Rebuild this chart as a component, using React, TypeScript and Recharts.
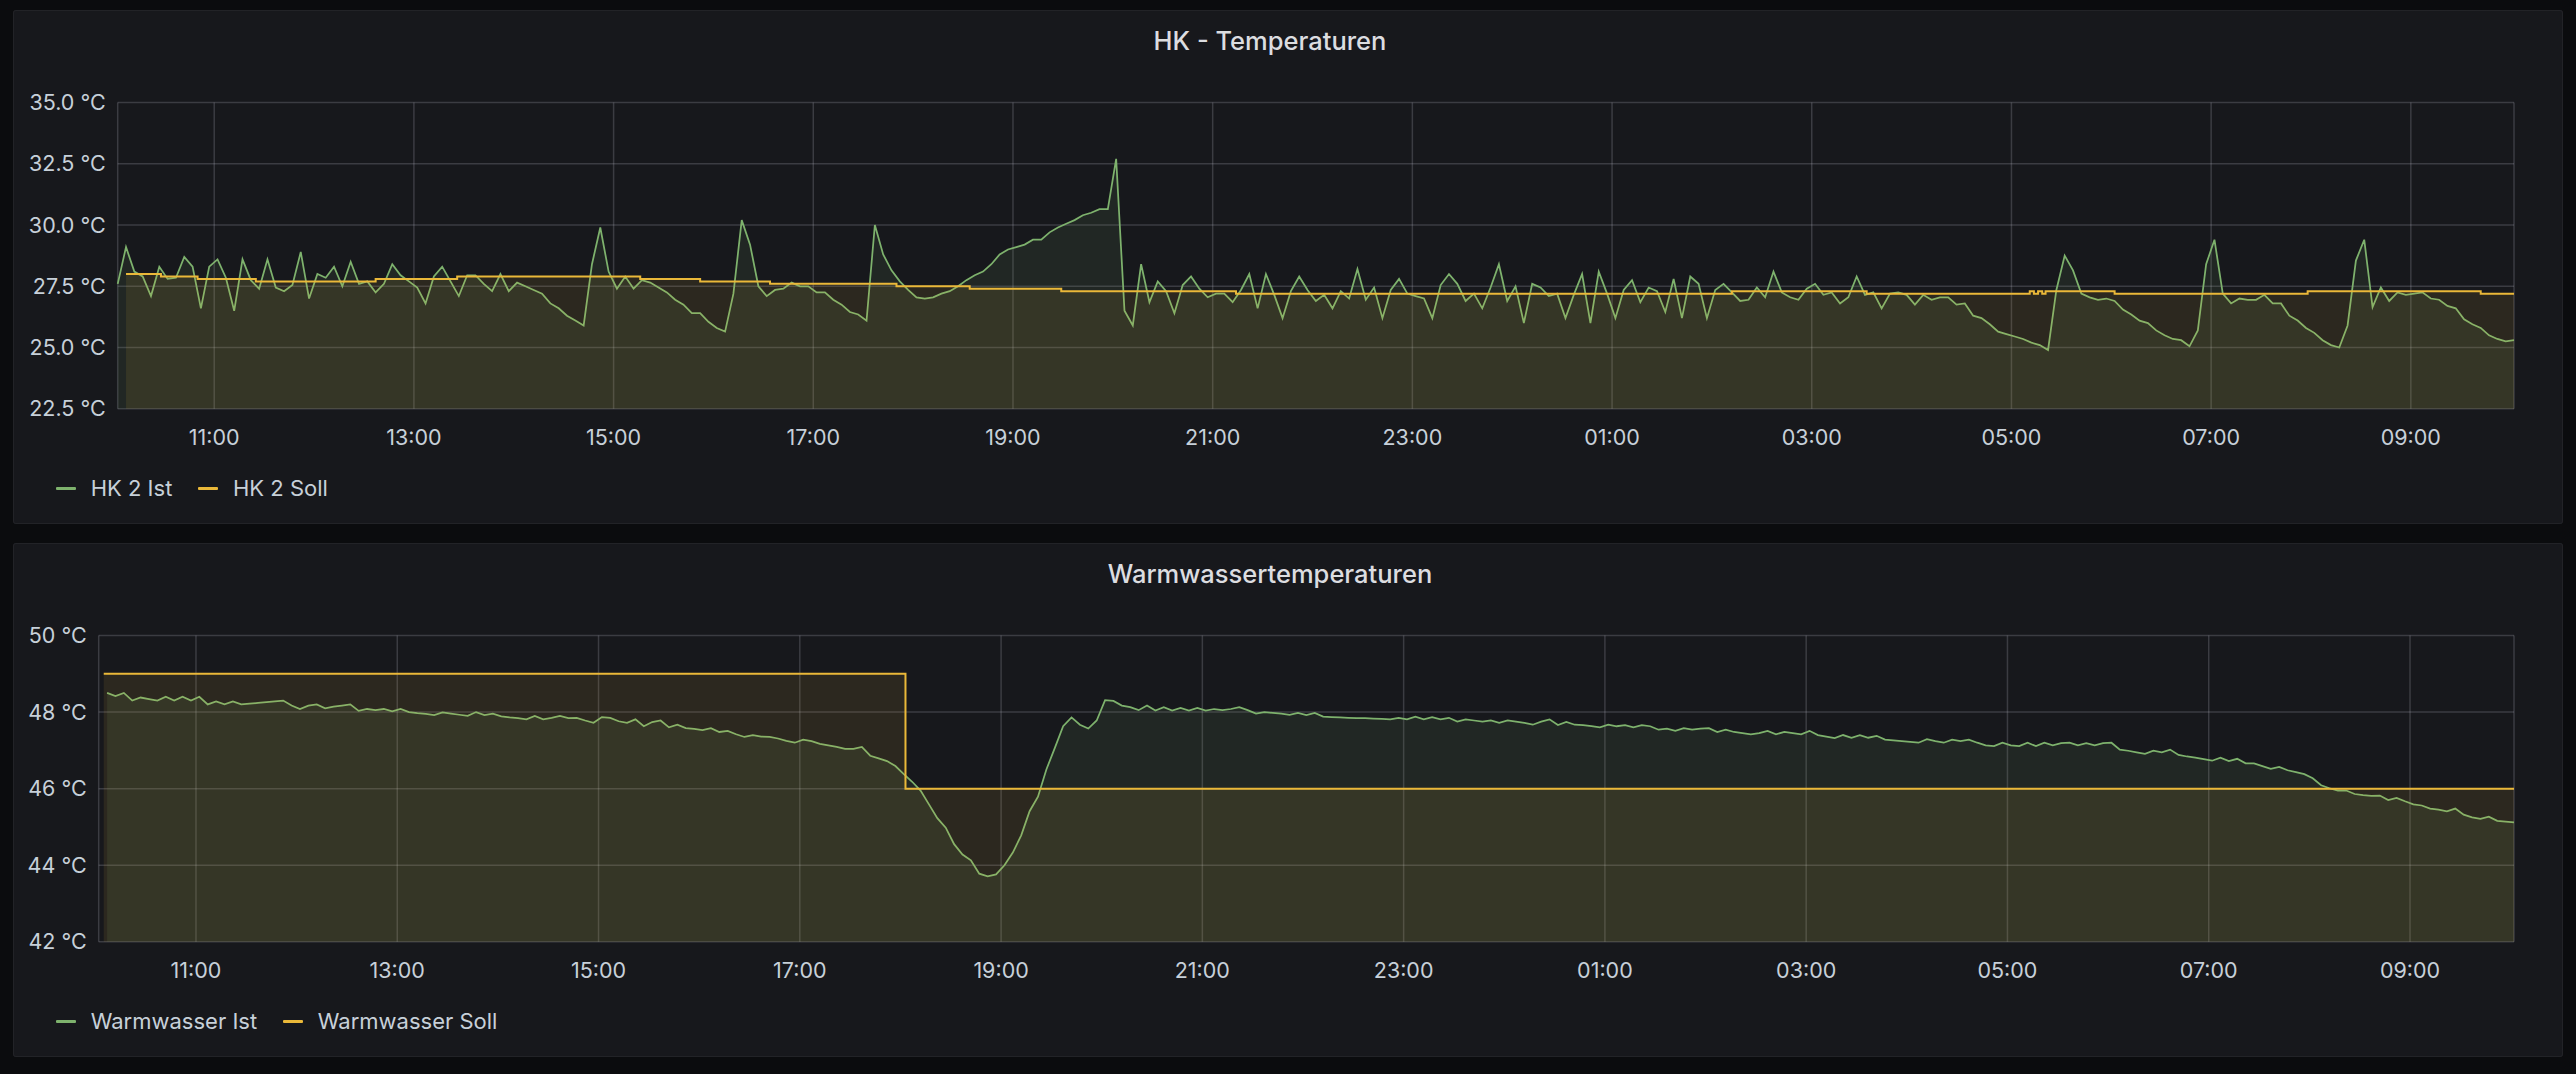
import React from "react";
import { ComposedChart, Area, XAxis, YAxis, CartesianGrid } from "recharts";

// time axis: minutes after 10:00 of the first day
const timeTicks = [60, 180, 300, 420, 540, 660, 780, 900, 1020, 1140, 1260, 1380];
const timeLabels = ["11:00", "13:00", "15:00", "17:00", "19:00", "21:00", "23:00", "01:00", "03:00", "05:00", "07:00", "09:00"];
const timeDomain = [2, 1442];
const sampleStep = 5;

const hkTicks = [22.5, 25, 27.5, 30, 32.5, 35];
const hkTickLabels = ["22.5 °C", "25.0 °C", "27.5 °C", "30.0 °C", "32.5 °C", "35.0 °C"];
const wwTicks = [42, 44, 46, 48, 50];
const wwTickLabels = ["42 °C", "44 °C", "46 °C", "48 °C", "50 °C"];

// HK 2 Ist, one sample every 5 min from 10:02
const hkIstStart = 2;
const hkIst = [
  27.6, 29.1, 28.1, 27.9, 27.1, 28.3, 27.8, 27.85, 28.7, 28.3, 26.6, 28.3,
  28.6, 27.85, 26.5, 28.6, 27.75, 27.4, 28.6, 27.45, 27.3, 27.55, 28.9, 27.0,
  28.0, 27.85, 28.3, 27.5, 28.5, 27.6, 27.7, 27.25, 27.6, 28.4, 27.95, 27.7,
  27.45, 26.8, 27.9, 28.3, 27.7, 27.1, 27.95, 27.95, 27.6, 27.3, 28.0, 27.3,
  27.65, 27.5, 27.35, 27.2, 26.8, 26.6, 26.3, 26.1, 25.9, 28.4, 29.9, 28.1,
  27.4, 27.9, 27.4, 27.75, 27.65, 27.45, 27.25, 26.95, 26.75, 26.4, 26.4, 26.05,
  25.8, 25.65, 27.2, 30.2, 29.2, 27.5, 27.1, 27.35, 27.4, 27.65, 27.5, 27.5,
  27.25, 27.25, 26.95, 26.75, 26.45, 26.35, 26.1, 30.0, 28.8, 28.15, 27.7, 27.35,
  27.05, 27.0, 27.05, 27.2, 27.3, 27.5, 27.75, 27.95, 28.1, 28.4, 28.8, 29.0,
  29.1, 29.2, 29.4, 29.4, 29.7, 29.9, 30.05, 30.2, 30.4, 30.5, 30.65, 30.65,
  32.7, 26.5, 25.9, 28.4, 26.85, 27.7, 27.3, 26.4, 27.55, 27.9, 27.4, 27.05,
  27.2, 27.2, 26.85, 27.35, 28.0, 26.6, 28.0, 27.15, 26.2, 27.3, 27.9, 27.35,
  26.9, 27.15, 26.6, 27.3, 27.0, 28.2, 26.95, 27.45, 26.2, 27.35, 27.8, 27.2,
  27.1, 27.0, 26.2, 27.55, 28.0, 27.6, 26.9, 27.2, 26.6, 27.45, 28.4, 26.9,
  27.5, 26.0, 27.6, 27.45, 27.1, 27.2, 26.2, 27.15, 28.0, 26.0, 28.1, 27.2,
  26.2, 27.35, 27.75, 26.85, 27.45, 27.3, 26.45, 27.8, 26.2, 27.9, 27.6, 26.2,
  27.35, 27.6, 27.25, 26.9, 26.95, 27.45, 27.05, 28.1, 27.25, 27.05, 26.95, 27.4,
  27.6, 27.15, 27.25, 26.8, 27.05, 27.9, 27.15, 27.25, 26.6, 27.2, 27.25, 27.15,
  26.75, 27.15, 26.95, 27.05, 27.05, 26.75, 26.8, 26.3, 26.2, 25.95, 25.65, 25.55,
  25.45, 25.35, 25.2, 25.1, 24.9, 27.35, 28.75, 28.15, 27.2, 27.05, 26.95, 27.0,
  26.9, 26.55, 26.35, 26.1, 26.0, 25.7, 25.5, 25.35, 25.3, 25.05, 25.7, 28.4,
  29.4, 27.2, 26.8, 27.0, 26.95, 26.95, 27.15, 26.8, 26.8, 26.3, 26.1, 25.8,
  25.6, 25.3, 25.1, 25.0, 25.9, 28.55, 29.4, 26.65, 27.45, 26.9, 27.25, 27.15,
  27.2, 27.25, 27.0, 26.95, 26.7, 26.6, 26.15, 25.95, 25.8, 25.5, 25.35, 25.25,
  25.3,
];

// HK 2 Soll, change points (minute, value)
const hkSollTimes = [7, 28, 50, 85, 157, 206, 316, 352, 394, 470, 514, 569, 674, 972, 1053, 1151, 1153.5, 1156, 1158.5, 1160.5, 1202, 1318, 1422, 1442];
const hkSoll = [28.0, 27.9, 27.8, 27.7, 27.8, 27.9, 27.8, 27.7, 27.6, 27.5, 27.4, 27.3, 27.2, 27.3, 27.2, 27.3, 27.2, 27.3, 27.2, 27.3, 27.2, 27.3, 27.2, 27.2];

// Warmwasser Ist, one sample every 5 min from 10:07
const wwIstStart = 7;
const wwIst = [
  48.5, 48.42, 48.5, 48.3, 48.38, 48.34, 48.3, 48.4, 48.3, 48.4, 48.3, 48.4,
  48.2, 48.28, 48.2, 48.28, 48.2, 48.22, 48.24, 48.26, 48.28, 48.3, 48.17, 48.08,
  48.17, 48.2, 48.1, 48.14, 48.17, 48.2, 48.03, 48.08, 48.05, 48.08, 48.02, 48.08,
  48.0, 47.97, 47.95, 47.92, 47.99, 47.96, 47.93, 47.9, 48.0, 47.92, 47.96, 47.89,
  47.86, 47.84, 47.81, 47.9, 47.81, 47.85, 47.9, 47.84, 47.85, 47.78, 47.72, 47.87,
  47.85, 47.76, 47.72, 47.81, 47.63, 47.74, 47.78, 47.6, 47.67, 47.58, 47.56, 47.53,
  47.58, 47.48, 47.51, 47.42, 47.35, 47.4, 47.36, 47.35, 47.31, 47.25, 47.2, 47.28,
  47.24, 47.17, 47.13, 47.09, 47.04, 47.04, 47.09, 46.86, 46.79, 46.72, 46.59, 46.38,
  46.18, 45.95, 45.59, 45.23, 44.98, 44.55, 44.28, 44.13, 43.78, 43.71, 43.76, 44.0,
  44.33, 44.78, 45.41, 45.79, 46.5, 47.06, 47.63, 47.86, 47.67, 47.57, 47.78, 48.31,
  48.29, 48.17, 48.13, 48.05, 48.17, 48.04, 48.13, 48.04, 48.11, 48.04, 48.11, 48.04,
  48.08, 48.05, 48.08, 48.13, 48.05, 47.96, 48.0, 47.98, 47.96, 47.93, 47.98, 47.92,
  47.98, 47.88, 47.87, 47.86, 47.85, 47.84, 47.84, 47.83, 47.82, 47.81, 47.85, 47.81,
  47.88, 47.81, 47.87, 47.81, 47.85, 47.75, 47.81, 47.78, 47.75, 47.78, 47.72, 47.78,
  47.75, 47.72, 47.67, 47.75, 47.81, 47.66, 47.74, 47.67, 47.66, 47.63, 47.6, 47.67,
  47.63, 47.66, 47.6, 47.66, 47.63, 47.54, 47.57, 47.51, 47.58, 47.54, 47.57, 47.58,
  47.48, 47.54, 47.48, 47.45, 47.42, 47.45, 47.51, 47.42, 47.48, 47.45, 47.42, 47.51,
  47.4, 47.36, 47.32, 47.4, 47.33, 47.4, 47.33, 47.38, 47.28, 47.26, 47.24, 47.22,
  47.2, 47.29, 47.24, 47.2, 47.28, 47.24, 47.28, 47.2, 47.13, 47.11, 47.2, 47.13,
  47.11, 47.2, 47.11, 47.2, 47.13, 47.19, 47.2, 47.13, 47.19, 47.13, 47.19, 47.2,
  47.02, 46.99, 46.95, 46.91, 46.99, 46.95, 47.02, 46.88, 46.84, 46.81, 46.77, 46.73,
  46.81, 46.72, 46.78, 46.66, 46.66, 46.59, 46.52, 46.57, 46.48, 46.43, 46.38, 46.27,
  46.09, 46.01, 45.95, 45.95, 45.86, 45.83, 45.81, 45.82, 45.7, 45.76, 45.67, 45.59,
  45.56, 45.48, 45.45, 45.41, 45.48, 45.32, 45.25, 45.21, 45.27, 45.16, 45.14, 45.12,
];

// Warmwasser Soll, change points
const wwSollTimes = [5, 483, 1442];
const wwSoll = [49, 46, 46];

const GREEN = "#7EB26D";
const YELLOW = "#EAB839";
const TEXT = "#c7d0d9";
const GRID = "rgba(204,204,220,0.2)";
const PANEL_BG = "#17181c";
const FONT = "Inter, 'Noto Sans', sans-serif";

type Row = { t: number; ist?: number; soll?: number };

function buildRows(istStart: number, ist: number[], sollTimes: number[], soll: number[]) {
  const rows = new Map<number, Row>();
  ist.forEach((v, i) => {
    const t = istStart + i * sampleStep;
    rows.set(t, { ...(rows.get(t) || { t }), ist: v });
  });
  sollTimes.forEach((t, i) => {
    rows.set(t, { ...(rows.get(t) || { t }), soll: soll[i] });
  });
  return Array.from(rows.values()).sort((a, b) => a.t - b.t);
}

const hkRows = buildRows(hkIstStart, hkIst, hkSollTimes, hkSoll);
const wwRows = buildRows(wwIstStart, wwIst, wwSollTimes, wwSoll);

const PANEL_W = 2550;
const PANEL_H = 514;

type PanelProps = {
  top: number;
  title: string;
  rows: Row[];
  yDomain: number[];
  yTicks: number[];
  yLabels: string[];
  yAxisWidth: number;
  marginLeft: number;
  names: string[];
};

function Panel({ top, title, rows, yDomain, yTicks, yLabels, yAxisWidth, marginLeft, names }: PanelProps) {
  return (
    <div
      style={{
        position: "absolute",
        left: 13,
        top,
        width: PANEL_W,
        height: PANEL_H,
        background: PANEL_BG,
        borderRadius: 3,
        boxShadow: "inset 0 0 0 1px #222327",
      }}
    >
      <div
        style={{
          position: "absolute",
          left: 0,
          top: 16,
          width: 2514,
          lineHeight: "30px",
          textAlign: "center",
          fontFamily: FONT,
          fontSize: 25.5,
          fontWeight: 500,
          color: "#dcdde0",
        }}
      >
        {title}
      </div>
      <div style={{ position: "absolute", left: 0, top: 0 }}>
        <ComposedChart
          width={PANEL_W}
          height={PANEL_H}
          data={rows}
          margin={{ top: 92.5, right: 49, bottom: 75.2, left: marginLeft }}
        >
          <CartesianGrid stroke={GRID} strokeWidth={1.5} />
          <XAxis
            type="number"
            dataKey="t"
            domain={timeDomain}
            ticks={timeTicks}
            interval={0}
            tickFormatter={(m) => timeLabels[timeTicks.indexOf(m)]}
            axisLine={false}
            tickLine={false}
            tickSize={0}
            tickMargin={21}
            height={40}
            tick={{ fill: TEXT, fontSize: 21.5, fontFamily: FONT }}
          />
          <YAxis
            type="number"
            domain={yDomain}
            ticks={yTicks}
            interval={0}
            tickFormatter={(v) => yLabels[yTicks.indexOf(v)]}
            axisLine={false}
            tickLine={false}
            tickSize={0}
            tickMargin={12}
            width={yAxisWidth}
            tick={{ fill: TEXT, fontSize: 21.5, fontFamily: FONT }}
          />
          <Area
            dataKey="ist"
            type="linear"
            stroke={GREEN}
            strokeWidth={1.75}
            fill={GREEN}
            fillOpacity={0.1}
            connectNulls
            dot={false}
            activeDot={false}
            isAnimationActive={false}
          />
          <Area
            dataKey="soll"
            type="stepAfter"
            stroke={YELLOW}
            strokeWidth={2}
            fill={YELLOW}
            fillOpacity={0.1}
            connectNulls
            dot={false}
            activeDot={false}
            isAnimationActive={false}
          />
        </ComposedChart>
      </div>
      <div
        style={{
          position: "absolute",
          left: 43,
          top: 463,
          height: 30,
          display: "flex",
          alignItems: "center",
          fontFamily: FONT,
          fontSize: 22,
          color: TEXT,
          lineHeight: "30px",
        }}
      >
        {names.map((n, i) => (
          <div key={n} style={{ display: "flex", alignItems: "center", marginRight: 26 }}>
            <div
              style={{
                width: 20,
                height: 3,
                borderRadius: 1,
                background: i === 0 ? GREEN : YELLOW,
                marginRight: 14.7,
              }}
            />
            <span>{n}</span>
          </div>
        ))}
      </div>
    </div>
  );
}

export default function App() {
  return (
    <div
      style={{
        position: "absolute",
        left: 0,
        top: 0,
        width: 2576,
        height: 1074,
        background: "#0b0c0e",
        overflow: "hidden",
      }}
    >
      <Panel
        top={10}
        title="HK - Temperaturen"
        rows={hkRows}
        yDomain={[22.5, 35]}
        yTicks={hkTicks}
        yLabels={hkTickLabels}
        yAxisWidth={90}
        marginLeft={14.7}
        names={["HK 2 Ist", "HK 2 Soll"]}
      />
      <Panel
        top={543}
        title="Warmwassertemperaturen"
        rows={wwRows}
        yDomain={[42, 50]}
        yTicks={wwTicks}
        yLabels={wwTickLabels}
        yAxisWidth={75}
        marginLeft={10.7}
        names={["Warmwasser Ist", "Warmwasser Soll"]}
      />
    </div>
  );
}
